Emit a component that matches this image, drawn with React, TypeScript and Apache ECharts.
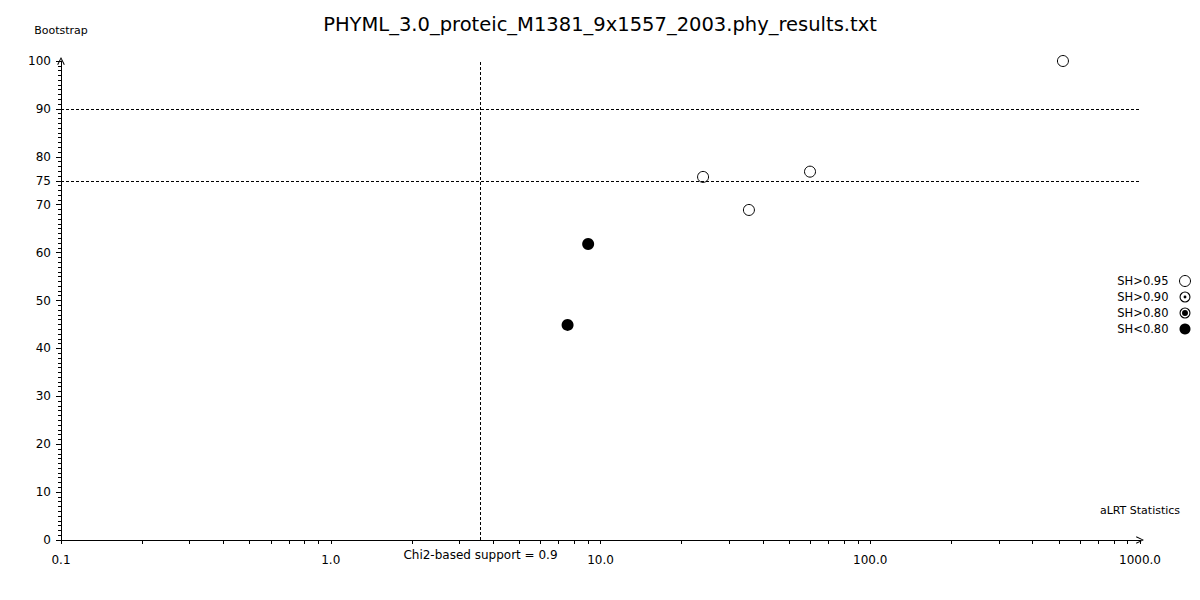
import React, { useEffect, useRef } from "react";
import * as echarts from "echarts";

const TITLE = "PHYML_3.0_proteic_M1381_9x1557_2003.phy_results.txt";
const legendNames = ["SH>0.95", "SH>0.90", "SH>0.80", "SH<0.80"];

// aLRT statistic (x) and bootstrap (y) per branch, grouped by SH support class
const sh95X = [518, 24.0, 59.8, 35.5];
const sh95Y = [100, 75.8, 76.9, 68.9];
const sh90X: number[] = [];
const sh90Y: number[] = [];
const sh80X: number[] = [];
const sh80Y: number[] = [];
const shLowX = [9.0, 7.55];
const shLowY = [61.8, 44.9];

const chi2Threshold = 3.59;
const chi2Label = "Chi2-based support = 0.9";
const bootstrapLines = [90, 75];

const xLabelValues = [0.1, 1, 10, 100, 1000];
const xTickValues = [
  0.1, 0.2, 0.3, 0.4, 0.5, 0.6, 0.7, 0.8, 0.9,
  1, 2, 3, 4, 5, 6, 7, 8, 9,
  10, 20, 30, 40, 50, 60, 70, 80, 90,
  100, 200, 300, 400, 500, 600, 700, 800, 900, 1000,
];
const yLabelValues = [0, 10, 20, 30, 40, 50, 60, 70, 75, 80, 90, 100];

const zip = (xs: number[], ys: number[]) => xs.map((x, i) => [x, ys[i]]);

const ringDot = (r: number) =>
  "path://M50,0 A50,50 0 1,1 50,100 A50,50 0 1,1 50,0 Z " +
  "M50,10 A40,40 0 1,0 50,90 A40,40 0 1,0 50,10 Z " +
  `M50,${50 - r} A${r},${r} 0 1,1 50,${50 + r} A${r},${r} 0 1,1 50,${50 - r} Z`;

const arrowPath =
  "path://M0,10 L5,0 L10,10 L8.8,10.6 L5,2.6 L1.2,10.6 Z";

const FONT = "DejaVu Sans";

export default function App() {
  const ref = useRef<HTMLDivElement>(null);
  useEffect(() => {
    if (!ref.current) return;
    const chart = echarts.init(ref.current, undefined, { renderer: "svg" });
    const hollowStyle = { color: "#fff", borderColor: "#000", borderWidth: 1, opacity: 1 };
    const solidStyle = { color: "#000", borderWidth: 0, opacity: 1 };
    chart.setOption({
      animation: false,
      backgroundColor: "#fff",
      title: {
        text: TITLE,
        left: "center",
        top: 9,
        textStyle: { fontFamily: FONT, fontSize: 19.5, fontWeight: "normal", color: "#000" },
      },
      grid: { left: 61, right: 60, top: 61, bottom: 60, containLabel: false, outerBoundsMode: "none" },
      legend: {
        orient: "vertical",
        right: 4,
        top: 270,
        align: "right",
        itemWidth: 11,
        itemHeight: 11,
        itemGap: 4,
        selectedMode: false,
        textStyle: { fontFamily: FONT, fontSize: 11.5, color: "#000", padding: [0, 6, 0, 0] },
        data: [
          { name: legendNames[0], icon: "circle", itemStyle: hollowStyle },
          { name: legendNames[1], icon: ringDot(13), itemStyle: solidStyle },
          { name: legendNames[2], icon: ringDot(27), itemStyle: solidStyle },
          { name: legendNames[3], icon: "circle", itemStyle: solidStyle },
        ],
      },
      xAxis: {
        type: "log",
        logBase: 10,
        min: 0.1,
        max: 1000,
        name: "aLRT Statistics",
        nameLocation: "end",
        nameGap: 0,
        nameTextStyle: {
          fontFamily: FONT, fontSize: 11, color: "#000",
          align: "center", verticalAlign: "bottom", padding: [0, 0, 24, 0],
        },
        axisLine: {
          onZero: false,
          lineStyle: { color: "#000", width: 1 },
          symbol: ["none", arrowPath],
          symbolSize: [9, 8],
          symbolOffset: [0, 0],
        },
        axisTick: { show: true, inside: false, length: 4, customValues: xTickValues, lineStyle: { color: "#000" } },
        axisLabel: {
          customValues: xLabelValues,
          margin: 14,
          fontFamily: FONT,
          fontSize: 12,
          color: "#000",
          formatter: (v: number) => Number(v).toFixed(1),
        },
        splitLine: { show: false },
      },
      yAxis: {
        type: "value",
        min: 0,
        max: 100,
        interval: 10,
        name: "Bootstrap",
        nameLocation: "end",
        nameGap: 25,
        nameTextStyle: { fontFamily: FONT, fontSize: 11, color: "#000", align: "center" },
        axisLine: {
          show: true,
          onZero: false,
          lineStyle: { color: "#000", width: 1 },
          symbol: ["none", arrowPath],
          symbolSize: [9, 8],
        },
        axisTick: { show: true, length: 5, customValues: yLabelValues, lineStyle: { color: "#000" } },
        minorTick: { show: true, splitNumber: 10, length: 3, lineStyle: { color: "#000" } },
        axisLabel: { customValues: yLabelValues, margin: 10, fontFamily: FONT, fontSize: 12, color: "#000" },
        splitLine: { show: false },
      },
      series: [
        {
          name: legendNames[0],
          type: "scatter",
          symbol: "circle",
          symbolSize: 11,
          itemStyle: hollowStyle,
          data: zip(sh95X, sh95Y),
          markLine: {
            silent: true,
            symbol: "none",
            animation: false,
            lineStyle: { color: "#000", type: [3, 2], width: 1, opacity: 1 },
            data: [
              ...bootstrapLines.map((v) => ({ yAxis: v, label: { show: false } })),
              {
                xAxis: chi2Threshold,
                label: {
                  show: true,
                  position: "start",
                  distance: 9,
                  formatter: chi2Label,
                  fontFamily: FONT,
                  fontSize: 12,
                  color: "#000",
                },
              },
            ],
          },
          z: 3,
        },
        {
          name: legendNames[1],
          type: "scatter",
          symbolSize: 11,
          itemStyle: solidStyle,
          data: zip(sh90X, sh90Y),
        },
        {
          name: legendNames[2],
          type: "scatter",
          symbolSize: 11,
          itemStyle: solidStyle,
          data: zip(sh80X, sh80Y),
        },
        {
          name: legendNames[3],
          type: "scatter",
          symbol: "circle",
          symbolSize: 12,
          itemStyle: solidStyle,
          data: zip(shLowX, shLowY),
          z: 3,
        },
      ],
    });
    return () => chart.dispose();
  }, []);
  return (
    <div
      ref={ref}
      style={{ position: "absolute", left: 0, top: 0, width: 1200, height: 600, background: "#fff" }}
    />
  );
}
